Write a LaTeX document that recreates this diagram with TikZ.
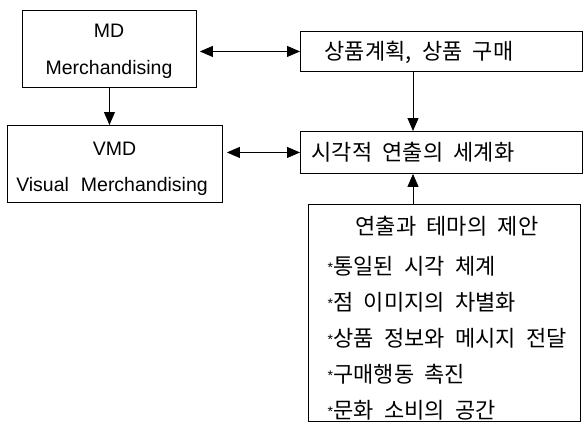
\documentclass[tikz,border=0pt]{standalone}
\usepackage{fontspec}
\setmainfont{Liberation Sans}
\newfontfamily\kr[WordSpace=2.1]{Noto Sans CJK KR}
\newfontfamily\latw[WordSpace=2.2]{Liberation Sans}
\usetikzlibrary{arrows.meta}
\tikzset{
  box/.style={draw, line width=0.9pt, inner sep=0pt},
  arr/.style={line width=0.9pt, -{Triangle[length=13pt,width=11pt]}},
  darr/.style={line width=0.9pt, {Triangle[length=13pt,width=11pt]}-{Triangle[length=13pt,width=11pt]}},
  lat/.style={font=\latw\fontsize{19.5}{22}\selectfont},
  kor/.style={font=\kr\fontsize{22}{24}\selectfont},
}
\newcommand{\bul}{\raisebox{0.12ex}{\fontsize{14}{14}\selectfont\rmfamily *}\kern0.3pt}
\begin{document}
\begin{tikzpicture}[x=1pt,y=-1pt]
\useasboundingbox (0,0) rectangle (583,431);
\fill[white] (0,0) rectangle (583,431);
% boxes
\node[box, minimum width=174pt, minimum height=77pt, anchor=north west] (md) at (22,10) {};
\node[lat] at (109,31) {MD};
\node[lat] at (109,69) {Merchandising};

\node[box, minimum width=282pt, minimum height=40pt, anchor=north west] (sp) at (300,31) {};
\node[kor] at (419,52) {상품계획, 상품 구매};

\node[box, minimum width=215pt, minimum height=77pt, anchor=north west] (vmd) at (7,125) {};
\node[lat] at (114.5,149) {VMD};
\node[lat] at (112,186) {Visual Merchandising};

\node[box, minimum width=282pt, minimum height=42pt, anchor=north west] (sg) at (300,131) {};
\node[kor] at (413,152) {시각적 연출의 세계화};

\node[box, minimum width=272pt, minimum height=217pt, anchor=north west] (yc) at (308,204) {};
\node[kor] at (447,226) {연출과 테마의 제안};
\node[kor, anchor=west] at (324,266) {\bul 통일된 시각 체계};
\node[kor, anchor=west] at (324,302) {\bul 점 이미지의 차별화};
\node[kor, anchor=west] at (324,338) {\bul 상품 정보와 메시지 전달};
\node[kor, anchor=west] at (324,374) {\bul 구매행동 촉진};
\node[kor, anchor=west] at (324,410) {\bul 문화 소비의 공간};

% connectors
\draw[darr] ([xshift=3pt]md.east |- sp.west) -- (sp.west);
\draw[arr] (md.south) -- (vmd.north -| md.south);
\draw[arr] (sp.south -| 413,0) -- (sg.north -| 413,0);
\draw[darr] ([xshift=4pt]vmd.east |- sg.west) -- (sg.west);
\draw[arr] (yc.north -| 413,0) -- (sg.south -| 413,0);
\end{tikzpicture}
\end{document}
